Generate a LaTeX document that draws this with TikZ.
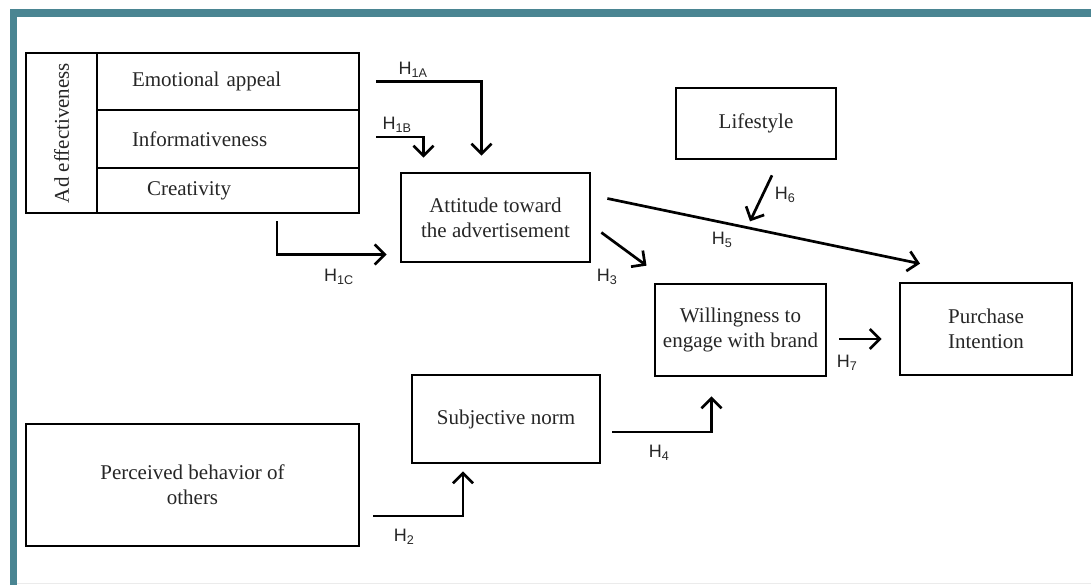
\documentclass[tikz,border=0pt]{standalone}
\usepackage{fontspec}
\setmainfont{Liberation Serif}
\newfontfamily\hfont{Liberation Sans}
\usetikzlibrary{arrows.meta}
\definecolor{frameteal}{HTML}{4A8592}
\tikzset{
  box/.style={draw, line width=2.7pt, align=center, font=\fontsize{21}{25}\selectfont, text=black!85, inner sep=0pt},
  row/.style={box, align=left, inner xsep=35pt, text width=192pt},
  arr/.style={line width=2.7pt, -{Straight Barb[length=10pt,width=20pt,line width=2.7pt]}},
  hlab/.style={font=\hfont\fontsize{18}{20}\selectfont, text=black!85, inner sep=0pt}
}
\begin{document}
\begin{tikzpicture}[x=1pt,y=-1pt]
\useasboundingbox (0,0) rectangle (1091,585);
\fill[frameteal] (10,9) rectangle (1091,17);
\fill[frameteal] (10,9) rectangle (17,585);
\draw[black!8] (17,583) -- (1091,583);

\node[box, rotate=90, minimum width=160pt, minimum height=71pt] (adlbl) at (61.5,133) {Ad effectiveness};
\node[row, minimum height=57pt] (emo) at (228,81.5) {Emotional appeal};
\node[row, minimum height=58pt] (info) at (228,139) {Informativeness};
\node[row, minimum height=45pt, inner xsep=50pt, text width=162pt] (crea) at (228,190.5) {Creativity};

\node[box, minimum width=189pt, minimum height=89pt] (att) at (495.5,217.5) {Attitude toward\\the advertisement};
\node[box, minimum width=160pt, minimum height=71pt] (life) at (756,123.5) {Lifestyle};
\node[box, minimum width=171pt, minimum height=92pt] (will) at (740.5,330) {Willingness to\\engage with brand};
\node[box, minimum width=172pt, minimum height=92pt] (pur) at (986,329) {Purchase\\Intention};
\node[box, minimum width=188pt, minimum height=88pt] (subj) at (506,419) {Subjective norm};
\node[box, minimum width=333pt, minimum height=122pt] (perc) at (192.5,485) {Perceived behavior of\\others};

\draw[arr] ([xshift=16pt]emo.east) -| ([xshift=-14pt,yshift=16pt]att.north);
\draw[arr] ([xshift=16pt,yshift=2pt]info.east) -| ([xshift=-72pt,yshift=14pt]att.north);
\draw[arr] ([xshift=49pt,yshift=-7pt]crea.south) |- ([xshift=-13pt,yshift=-37pt]att.west);
\draw[arr] ([xshift=10pt,yshift=-15pt]att.east) -- ([xshift=-94pt,yshift=17pt]will.north);
\draw[arr] ([xshift=16pt,yshift=19pt]att.east) -- ([xshift=-66pt,yshift=18pt]pur.north);
\draw[arr] ([xshift=16pt,yshift=-15pt]life.south) -- ([xshift=-6pt,yshift=-61pt]life.south);
\draw[arr] ([xshift=12pt,yshift=-9pt]will.east) -- ([xshift=-17pt,yshift=-10pt]pur.west);
\draw[arr] ([xshift=11pt,yshift=-13pt]subj.east) -| ([xshift=-29pt,yshift=-19pt]will.south);
\draw[arr] ([xshift=13pt,yshift=-31pt]perc.east) -| ([xshift=-43pt,yshift=-7pt]subj.south);

\node[hlab] (h1a) at (413,70) {H\textsubscript{1A}};
\node[hlab] (h1b) at (397,125) {H\textsubscript{1B}};
\node[hlab] (h1c) at (339,277) {H\textsubscript{1C}};
\node[hlab] (h2) at (404,537) {H\textsubscript{2}};
\node[hlab] (h3) at (607,277) {H\textsubscript{3}};
\node[hlab] (h4) at (659,453) {H\textsubscript{4}};
\node[hlab] (h5) at (722,240) {H\textsubscript{5}};
\node[hlab] (h6) at (785,195) {H\textsubscript{6}};
\node[hlab] (h7) at (847,363) {H\textsubscript{7}};
\end{tikzpicture}
\end{document}
